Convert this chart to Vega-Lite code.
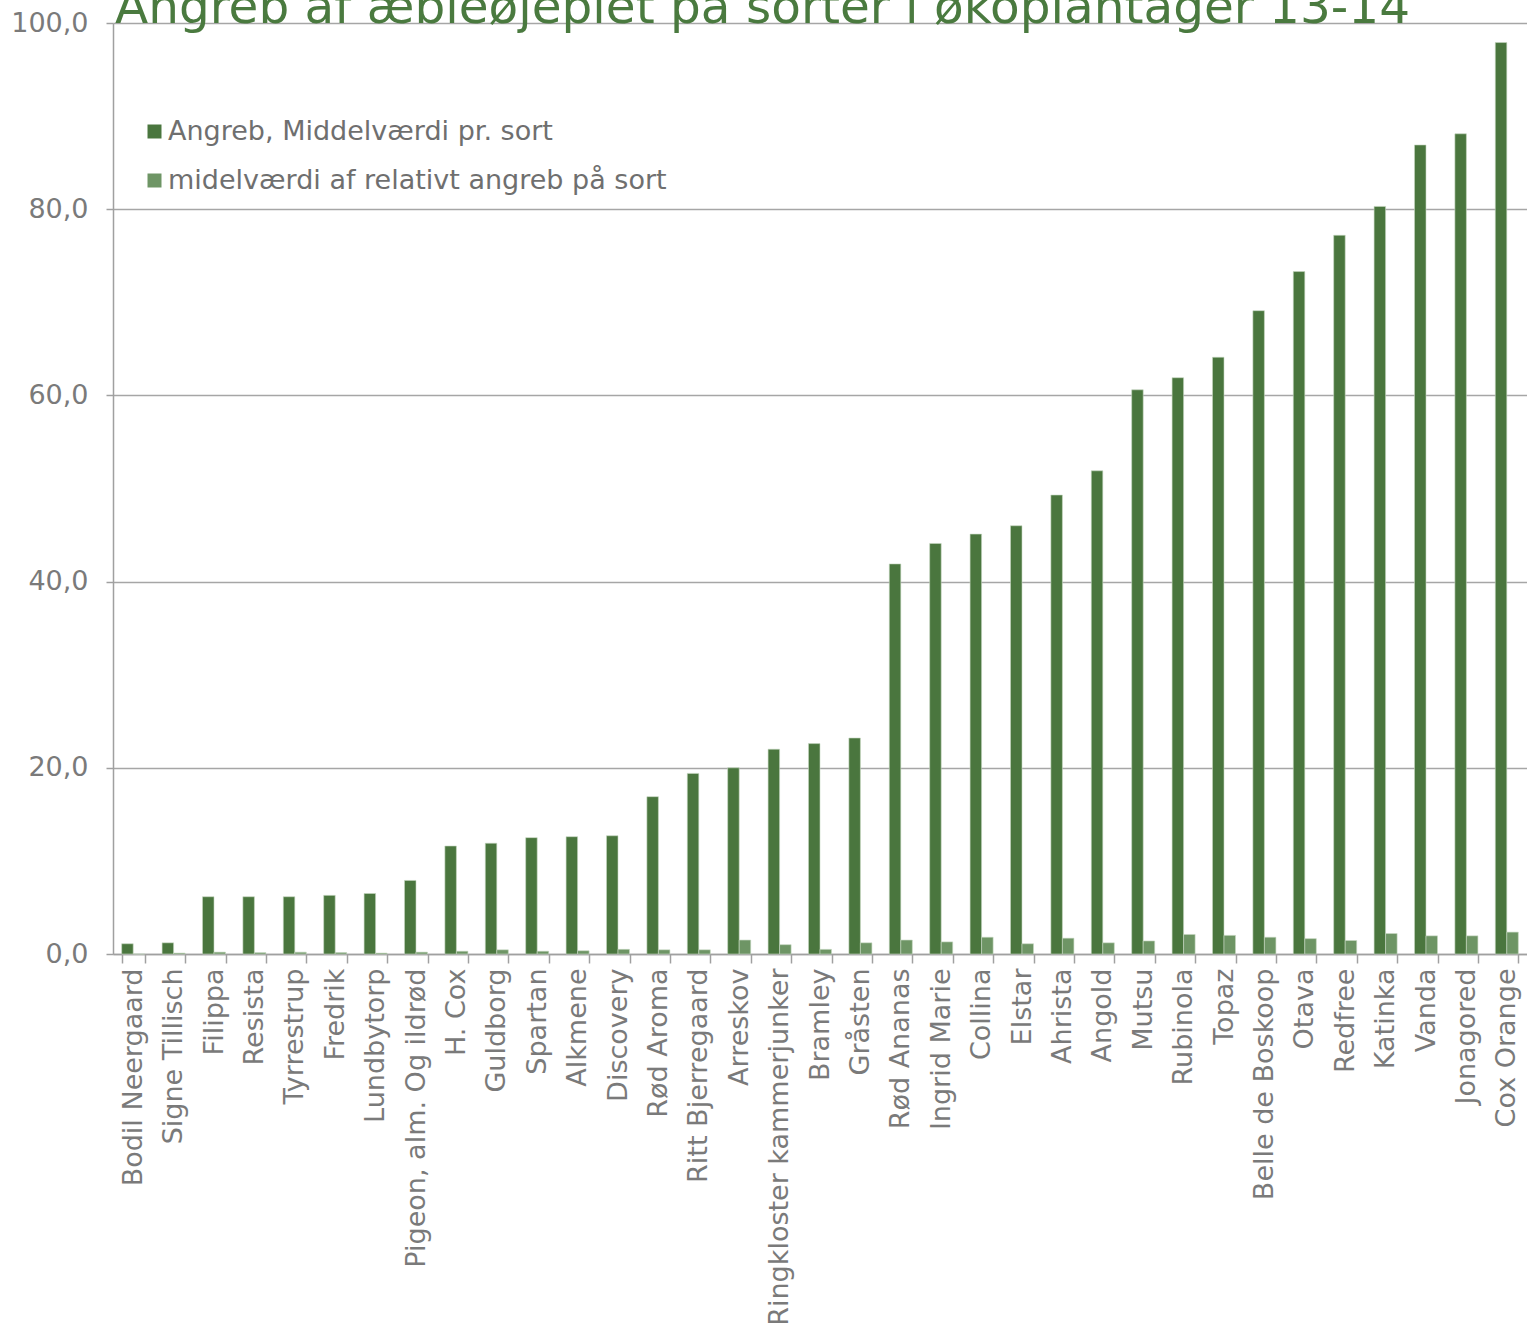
{
  "$schema": "https://vega.github.io/schema/vega-lite/v6.json",
  "autosize": {"type": "none"},
  "width": 1414,
  "height": 931,
  "padding": {"left": 113, "top": 23, "right": 0, "bottom": 375},
  "background": "#ffffff",
  "title": {
    "text": "Angreb af æbleøjeplet på sorter i økoplantager 13-14",
    "anchor": "start",
    "frame": "group",
    "font": "DejaVu Sans",
    "fontSize": 48.5,
    "fontWeight": "normal",
    "color": "#4a7a3f",
    "baseline": "alphabetic",
    "offset": 0,
    "dx": 2,
    "dy": 62
  },
  "datasets": {
    "rows": [
      {"sort": "Bodil Neergaard", "a": 1.1, "r": 0.0},
      {"sort": "Signe Tillisch", "a": 1.2, "r": 0.1},
      {"sort": "Filippa", "a": 6.15, "r": 0.2},
      {"sort": "Resista", "a": 6.15, "r": 0.15},
      {"sort": "Tyrrestrup", "a": 6.15, "r": 0.2},
      {"sort": "Fredrik", "a": 6.3, "r": 0.15},
      {"sort": "Lundbytorp", "a": 6.5, "r": 0.1},
      {"sort": "Pigeon, alm. Og ildrød", "a": 7.9, "r": 0.2},
      {"sort": "H. Cox", "a": 11.6, "r": 0.3},
      {"sort": "Guldborg", "a": 11.9, "r": 0.45},
      {"sort": "Spartan", "a": 12.5, "r": 0.3},
      {"sort": "Alkmene", "a": 12.6, "r": 0.35},
      {"sort": "Discovery", "a": 12.7, "r": 0.5},
      {"sort": "Rød Aroma", "a": 16.9, "r": 0.45},
      {"sort": "Ritt Bjerregaard", "a": 19.4, "r": 0.45},
      {"sort": "Arreskov", "a": 20.0, "r": 1.5},
      {"sort": "Ringkloster kammerjunker", "a": 22.0, "r": 1.0},
      {"sort": "Bramley", "a": 22.6, "r": 0.5},
      {"sort": "Gråsten", "a": 23.2, "r": 1.2},
      {"sort": "Rød Ananas", "a": 41.9, "r": 1.5},
      {"sort": "Ingrid Marie", "a": 44.1, "r": 1.3},
      {"sort": "Collina", "a": 45.1, "r": 1.8},
      {"sort": "Elstar", "a": 46.0, "r": 1.1},
      {"sort": "Ahrista", "a": 49.3, "r": 1.7},
      {"sort": "Angold", "a": 51.9, "r": 1.2},
      {"sort": "Mutsu", "a": 60.6, "r": 1.4},
      {"sort": "Rubinola", "a": 61.9, "r": 2.1},
      {"sort": "Topaz", "a": 64.1, "r": 2.0},
      {"sort": "Belle de Boskoop", "a": 69.1, "r": 1.8},
      {"sort": "Otava", "a": 73.3, "r": 1.65},
      {"sort": "Redfree", "a": 77.2, "r": 1.45},
      {"sort": "Katinka", "a": 80.3, "r": 2.2},
      {"sort": "Vanda", "a": 86.9, "r": 1.95},
      {"sort": "Jonagored", "a": 88.1, "r": 1.95},
      {"sort": "Cox Orange", "a": 97.9, "r": 2.35}
    ]
  },
  "data": {"name": "rows"},
  "transform": [
    {"fold": ["a", "r"], "as": ["key", "value"]},
    {"calculate": "datum.key === 'a' ? 'Angreb, Middelværdi pr. sort' : 'midelværdi af relativt angreb på sort'", "as": "serie"}
  ],
  "mark": {"type": "bar", "stroke": "#c8d8c2", "strokeWidth": 0.6},
  "encoding": {
    "x": {
      "field": "sort",
      "type": "nominal",
      "sort": null,
      "scale": {"paddingInner": 0.43, "paddingOuter": 0.215},
      "axis": {
        "title": null,
        "labelAngle": -90,
        "labelFont": "DejaVu Sans",
        "labelFontSize": 27,
        "labelColor": "#7a7a7a",
        "labelPadding": 5,
        "tickBand": "extent",
        "tickSize": 9,
        "tickColor": "#a0a0a0",
        "tickWidth": 1.5,
        "domainColor": "#a0a0a0",
        "domainWidth": 1.5,
        "labelLimit": 0
      }
    },
    "xOffset": {"field": "serie", "type": "nominal", "sort": null},
    "y": {
      "field": "value",
      "type": "quantitative",
      "scale": {"domain": [0, 100], "nice": false},
      "axis": {
        "title": null,
        "values": [0, 20, 40, 60, 80, 100],
        "labelExpr": "replace(format(datum.value, '.1f'), '.', ',')",
        "labelFont": "DejaVu Sans",
        "labelFontSize": 27,
        "labelColor": "#7a7a7a",
        "labelPadding": 18,
        "tickSize": 7,
        "tickColor": "#a0a0a0",
        "tickWidth": 1.5,
        "domainColor": "#a0a0a0",
        "domainWidth": 1.5,
        "grid": true,
        "gridColor": "#a6a6a6",
        "gridWidth": 1.5
      }
    },
    "color": {
      "field": "serie",
      "type": "nominal",
      "sort": null,
      "scale": {"range": ["#4a763e", "#6e9565"]},
      "legend": {
        "title": null,
        "orient": "none",
        "legendX": 28,
        "legendY": 95,
        "symbolType": "square",
        "symbolSize": 196,
        "symbolStrokeWidth": 0,
        "labelFont": "DejaVu Sans",
        "labelFontSize": 27,
        "labelColor": "#6f6f6f",
        "labelOffset": 0,
        "rowPadding": 21,
        "labelLimit": 0
      }
    }
  },
  "config": {"view": {"stroke": null}}
}
